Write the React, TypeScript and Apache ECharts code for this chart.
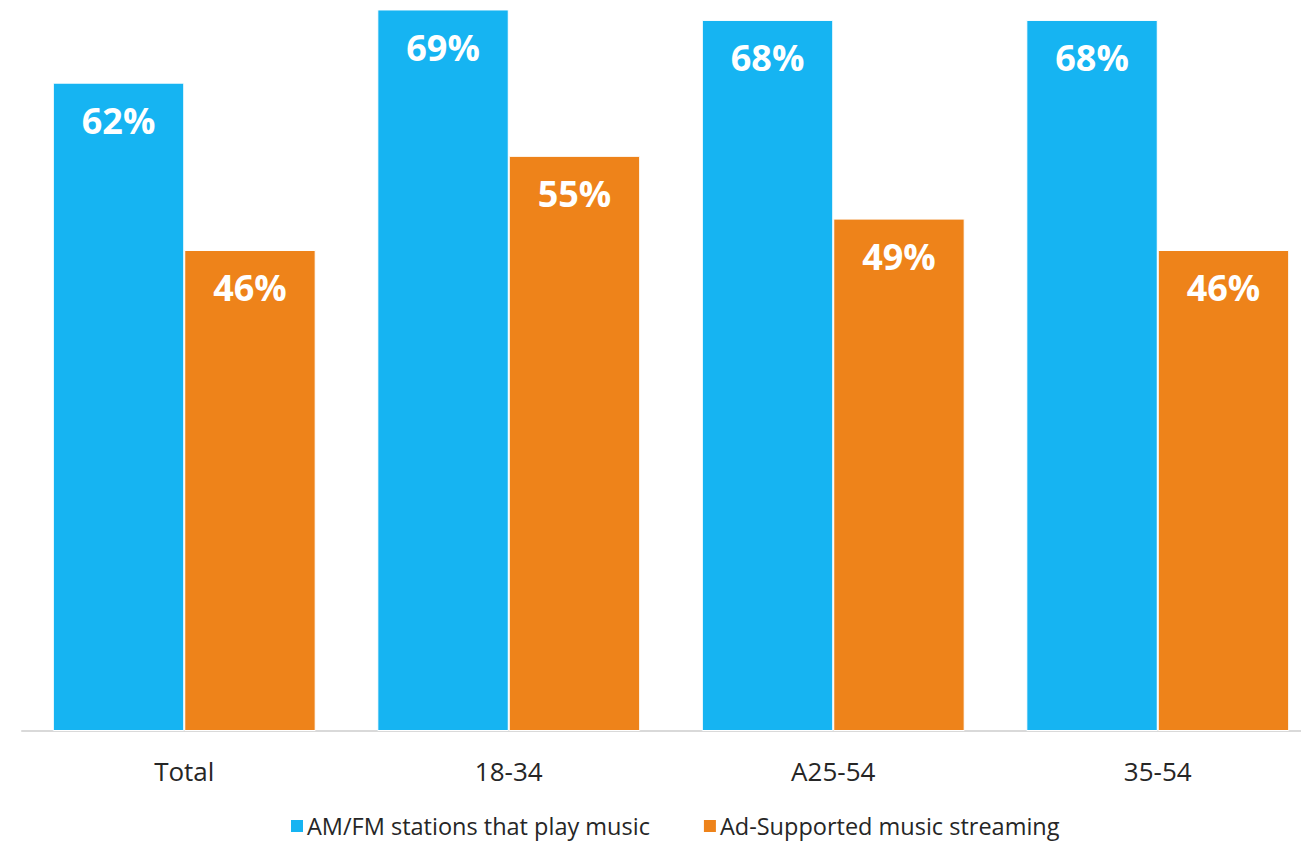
import React, { useEffect, useRef } from "react";
import * as echarts from "echarts";

const categories = ["Total", "18-34", "A25-54", "35-54"];
const amfmValues = [62, 69, 68, 68];
const streamingValues = [46, 55, 49, 46];
const seriesNames = ["AM/FM stations that play music", "Ad-Supported music streaming"];

export default function App() {
  const ref = useRef<HTMLDivElement>(null);
  useEffect(() => {
    document.body.style.margin = "0";
    const chart = echarts.init(ref.current!, null, { renderer: "svg" });
    const labelCfg = {
      show: true,
      position: "insideTop",
      distance: 20,
      color: "#ffffff",
      fontFamily: "Open Sans",
      fontWeight: "bold",
      fontSize: 36,
      lineHeight: 36,
      formatter: "{c}%",
    };
    chart.setOption({
      animation: false,
      backgroundColor: "#ffffff",
      grid: {
        left: 22,
        width: 1298,
        top: -1,
        bottom: 114,
        containLabel: false,
        outerBoundsMode: "none",
      },
      legend: {
        data: seriesNames,
        top: 809,
        left: 284,
        itemWidth: 14,
        itemHeight: 14,
        itemGap: 52,
        icon: "rect",
        textStyle: { fontFamily: "Open Sans", fontSize: 23.5, lineHeight: 24, color: "#262626", padding: [0, 0, 0, -2] },
      },
      xAxis: {
        type: "category",
        data: categories,
        axisLine: { lineStyle: { color: "#d9d9d9", width: 2 } },
        axisTick: { show: false },
        axisLabel: {
          margin: 27,
          fontFamily: "Open Sans",
          fontSize: 26,
          color: "#262626",
        },
      },
      yAxis: {
        type: "value",
        min: 0,
        max: 70,
        show: false,
        splitLine: { show: false },
      },
      series: [
        {
          name: seriesNames[0],
          type: "bar",
          data: amfmValues,
          barGap: "0%",
          barCategoryGap: "19%",
          itemStyle: { color: "#16b4f2", borderColor: "#ffffff", borderWidth: 1 },
          label: labelCfg,
        },
        {
          name: seriesNames[1],
          type: "bar",
          data: streamingValues,
          itemStyle: { color: "#ee831a", borderColor: "#ffffff", borderWidth: 1 },
          label: labelCfg,
        },
      ],
    });
    return () => chart.dispose();
  }, []);
  return <div ref={ref} style={{ width: 1301, height: 845, overflow: "hidden" }} />;
}
